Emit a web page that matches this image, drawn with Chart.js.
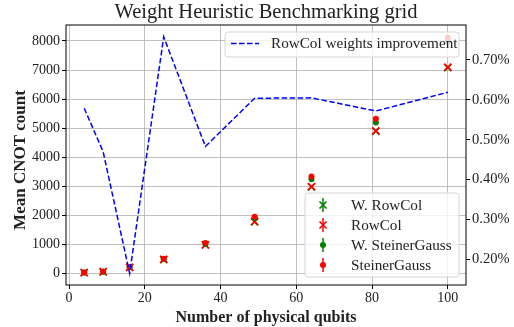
<!DOCTYPE html>
<html>
<head>
<meta charset="utf-8">
<script src="https://cdn.jsdelivr.net/npm/chart.js@4.4.1/dist/chart.umd.min.js"></script>
<style>
  html, body { margin: 0; padding: 0; background: #fff; }
  #wrap { width: 514px; height: 327px; }
</style>
</head>
<body>
<div id="wrap"><canvas id="c" width="514" height="327"></canvas></div>
<script>
// grid sizes (number of physical qubits)
const qubits = [4, 9, 16, 25, 36, 49, 64, 81, 100];

// mean CNOT counts
const wRowCol       = [22, 52, 200, 470, 975, 1770, 2970, 4890, 7080];
const rowCol        = [25, 55, 205, 480, 980, 1780, 2985, 4905, 7100];
const wSteinerGauss = [24, 55, 210, 490, 1010, 1900, 3240, 5195, 7980];
const steinerGauss  = [26, 58, 215, 500, 1040, 1950, 3330, 5320, 8110];

// small std errors (error bars)
const rowColErr = [4, 6, 10, 15, 20, 25, 30, 30, 35];
const sgErr     = [4, 6, 12, 18, 25, 30, 35, 35, 35];

// RowCol weights improvement (%)
const improvement = [0.579, 0.470, 0.165, 0.758, 0.483, 0.604, 0.605, 0.572, 0.619];

const xTicks = [0, 20, 40, 60, 80, 100];
const yTicks = [0, 1000, 2000, 3000, 4000, 5000, 6000, 7000, 8000];
const pctTicks = [0.2, 0.3, 0.4, 0.5, 0.6, 0.7];

const FONT = "'Liberation Serif', 'DejaVu Serif', serif";
const GREEN = '#008000', RED = '#ff0000', BLUE = '#0000ff';

const pts = (ys, errs) => qubits.map((x, i) => ({ x, y: ys[i], e: errs ? errs[i] : 0 }));

// error bars drawn with the scales
const errorBars = {
  id: 'errorBars',
  afterDatasetDraw(chart, args) {
    const ds = chart.data.datasets[args.index];
    if (!ds.errColor) return;
    const { ctx, scales } = chart;
    const ys = scales.y;
    ctx.save();
    ctx.strokeStyle = ds.errColor;
    ctx.lineWidth = 1.5;
    ds.data.forEach(p => {
      const px = scales.x.getPixelForValue(p.x);
      ctx.beginPath();
      ctx.moveTo(px, ys.getPixelForValue(p.y - p.e));
      ctx.lineTo(px, ys.getPixelForValue(p.y + p.e));
      ctx.stroke();
    });
    ctx.restore();
  }
};

function legendBox(ctx, x, y, w, h) {
  ctx.save();
  ctx.beginPath();
  ctx.roundRect(x, y, w, h, 3);
  ctx.fillStyle = 'rgba(255,255,255,0.8)';
  ctx.fill();
  ctx.strokeStyle = '#d6d6d6';
  ctx.lineWidth = 1;
  ctx.stroke();
  ctx.restore();
}

function drawX(ctx, cx, cy, r, color) {
  ctx.strokeStyle = color;
  ctx.lineWidth = 1.6;
  ctx.beginPath();
  ctx.moveTo(cx - r, cy - r); ctx.lineTo(cx + r, cy + r);
  ctx.moveTo(cx - r, cy + r); ctx.lineTo(cx + r, cy - r);
  ctx.stroke();
}

const decor = {
  id: 'decor',
  afterDraw(chart) {
    const { ctx, chartArea: a } = chart;
    ctx.save();
    // spines
    ctx.strokeStyle = '#000';
    ctx.lineWidth = 1;
    ctx.strokeRect(a.left, a.top, a.right - a.left, a.bottom - a.top);

    // title
    ctx.fillStyle = '#222';
    ctx.font = '20.5px ' + FONT;
    ctx.textAlign = 'center';
    ctx.textBaseline = 'middle';
    ctx.fillText('Weight Heuristic Benchmarking grid', (a.left + a.right) / 2, 13);

    // y-axis title
    ctx.save();
    ctx.translate(21, 160);
    ctx.rotate(-Math.PI / 2);
    ctx.font = 'bold 17px ' + FONT;
    ctx.fillText('Mean CNOT count', 0, 0);
    ctx.restore();

    // marker legend (lower right)
    legendBox(ctx, 305, 193, 154, 84);
    const rows = [
      { t: 'W. RowCol', kind: 'x', c: GREEN },
      { t: 'RowCol', kind: 'x', c: RED },
      { t: 'W. SteinerGauss', kind: 'o', c: GREEN },
      { t: 'SteinerGauss', kind: 'o', c: RED }
    ];
    ctx.font = '15.2px ' + FONT;
    ctx.textAlign = 'left';
    rows.forEach((r, i) => {
      const cy = 205 + i * 20;
      const cx = 323;
      ctx.strokeStyle = r.c;
      ctx.lineWidth = 1.5;
      ctx.beginPath();
      ctx.moveTo(cx, cy - 7); ctx.lineTo(cx, cy + 7);
      ctx.stroke();
      if (r.kind === 'x') {
        drawX(ctx, cx, cy, 3.5, r.c);
      } else {
        ctx.fillStyle = r.c;
        ctx.beginPath();
        ctx.arc(cx, cy, 3, 0, Math.PI * 2);
        ctx.fill();
      }
      ctx.fillStyle = '#222';
      ctx.fillText(r.t, 351, cy + 1);
    });

    // line legend (top right)
    legendBox(ctx, 225, 32, 234, 25);
    ctx.strokeStyle = BLUE;
    ctx.lineWidth = 1.5;
    ctx.setLineDash([5.5, 2.5]);
    ctx.beginPath();
    ctx.moveTo(231, 43.5); ctx.lineTo(259, 43.5);
    ctx.stroke();
    ctx.setLineDash([]);
    ctx.fillStyle = '#222';
    ctx.fillText('RowCol weights improvement', 271, 44.5);
    ctx.restore();
  }
};

new Chart(document.getElementById('c'), {
  type: 'scatter',
  data: {
    datasets: [
      {
        type: 'line',
        label: 'RowCol weights improvement',
        data: qubits.map((x, i) => ({ x, y: improvement[i] })),
        yAxisID: 'y2',
        borderColor: BLUE,
        borderWidth: 1.5,
        borderDash: [5.5, 2.5],
        pointRadius: 0,
        fill: false,
        tension: 0,
        order: 0
      },
      {
        label: 'SteinerGauss',
        data: pts(steinerGauss, sgErr),
        yAxisID: 'y',
        pointStyle: 'circle',
        pointRadius: 3,
        backgroundColor: RED,
        borderColor: RED,
        borderWidth: 0,
        errColor: RED,
        order: 1
      },
      {
        label: 'W. SteinerGauss',
        data: pts(wSteinerGauss, sgErr),
        yAxisID: 'y',
        pointStyle: 'circle',
        pointRadius: 3,
        backgroundColor: GREEN,
        borderColor: GREEN,
        borderWidth: 0,
        errColor: GREEN,
        order: 2
      },
      {
        label: 'RowCol',
        data: pts(rowCol, rowColErr),
        yAxisID: 'y',
        pointStyle: 'crossRot',
        pointRadius: 5,
        borderColor: RED,
        borderWidth: 1.6,
        errColor: RED,
        order: 3
      },
      {
        label: 'W. RowCol',
        data: pts(wRowCol, rowColErr),
        yAxisID: 'y',
        pointStyle: 'crossRot',
        pointRadius: 5,
        borderColor: GREEN,
        borderWidth: 1.6,
        errColor: GREEN,
        order: 4
      }
    ]
  },
  options: {
    responsive: false,
    animation: false,
    layout: { padding: { top: 25, left: 0, right: 0, bottom: 0 } },
    plugins: { legend: { display: false }, tooltip: { enabled: false }, title: { display: false } },
    scales: {
      x: {
        type: 'linear',
        min: -0.8,
        max: 104.8,
        afterBuildTicks: s => { s.ticks = xTicks.map(v => ({ value: v })); },
        afterFit: s => { s.height = 42; },
        grid: { color: '#b0b0b0', lineWidth: 0.8, tickColor: '#000', tickLength: 4, tickWidth: 1 },
        border: { display: false },
        ticks: { color: '#222', font: { family: FONT, size: 14 }, padding: 1, maxRotation: 0 },
        title: {
          display: true, text: 'Number of physical qubits', color: '#222',
          font: { family: FONT, size: 16, weight: 'bold' }, padding: { top: 0, bottom: 0 }
        }
      },
      y: {
        type: 'linear',
        position: 'left',
        min: -403,
        max: 8550,
        afterBuildTicks: s => { s.ticks = yTicks.map(v => ({ value: v })); },
        afterFit: s => { s.width = 66; },
        grid: { color: '#b0b0b0', lineWidth: 0.8, tickColor: '#000', tickLength: 4, tickWidth: 1 },
        border: { display: false },
        ticks: { color: '#222', font: { family: FONT, size: 14 }, padding: 2, callback: v => String(v) }
      },
      y2: {
        type: 'linear',
        position: 'right',
        min: 0.1356,
        max: 0.7877,
        afterBuildTicks: s => { s.ticks = pctTicks.map(v => ({ value: v })); },
        afterFit: s => { s.width = 48; },
        grid: { drawOnChartArea: false, tickColor: '#000', tickLength: 4, tickWidth: 1 },
        border: { display: false },
        ticks: {
          color: '#222', font: { family: FONT, size: 14.5 }, padding: 2,
          callback: v => v.toFixed(2) + '%'
        }
      }
    }
  },
  plugins: [errorBars, decor]
});
</script>
</body>
</html>
